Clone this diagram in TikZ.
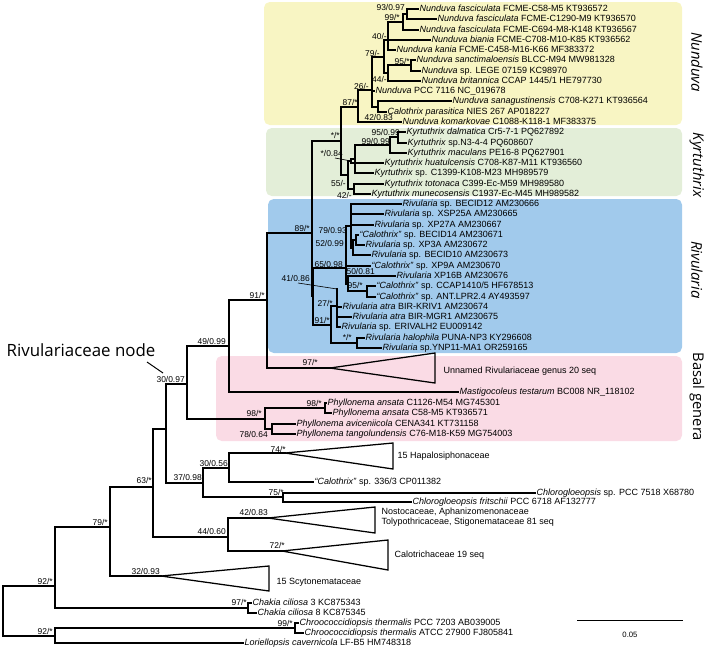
\documentclass[tikz,border=0pt]{standalone}
\usepackage{fontspec}
\setmainfont{Liberation Sans}
\newfontfamily\cladefont{Open Sans}
\definecolor{nunduvabg}{RGB}{248,245,195}
\definecolor{kyrtbg}{RGB}{227,238,216}
\definecolor{rivbg}{RGB}{161,202,236}
\definecolor{basalbg}{RGB}{250,219,229}
\newcommand*{\taxon}[2]{\textit{#1} #2}

\begin{document}
\begin{tikzpicture}
[
	x=0.025cm, y=-0.025cm,
	branch/.style={line width=0.9pt, line cap=rect},
	leader/.style={line width=0.45pt},
	leaf/.style={anchor=west, inner sep=1pt, font=\fontsize{6.4}{7}\selectfont, text height=4.6pt, text depth=1.3pt},
	supp/.style={anchor=east, inner sep=0pt, font=\fontsize{6}{7}\selectfont},
	clade/.style={rotate=-90, inner sep=0pt, font=\cladefont\fontsize{10.5}{12}\selectfont},
	cladebox/.style={rounded corners=4pt}
]
	\useasboundingbox (0,0) rectangle (709,652);

	% clade boxes
	\fill[nunduvabg,cladebox] (264,2) rectangle (682,125);
	\fill[kyrtbg,cladebox] (266,128) rectangle (682,196);
	\fill[rivbg,cladebox] (268,199) rectangle (682,353);
	\fill[basalbg,cladebox] (216,356) rectangle (682,441);

	% clade names
	\node[clade] (nunduvalab) at (697,62) {\itshape Nunduva};
	\node[clade] (kyrtlab) at (697,165) {\itshape Kyrtuthrix};
	\node[clade] (rivlab) at (697,270) {\itshape Rivularia};
	\node[clade] (basallab) at (697,397) {Basal genera};

	% internal nodes
	\coordinate (root) at (3,611);
	\coordinate (nin) at (55,586);
	\coordinate (nout) at (55,636);
	\coordinate (n79) at (110,527);
	\coordinate (n63) at (153,487);
	\coordinate (n166) at (166,429);
	\coordinate (n30) at (187,384);
	\coordinate (n49) at (229,346);
	\coordinate (n91) at (267,300);
	\coordinate (n89) at (312,233);
	\coordinate (nkn) at (341,141);
	\coordinate (n87) at (358,107);
	\coordinate (n26) at (372,90);
	\coordinate (nx) at (378,107);
	\coordinate (n79n) at (384,57);
	\coordinate (n40) at (388,40);
	\coordinate (n99n) at (403,22);
	\coordinate (n93) at (407,14);
	\coordinate (n44n) at (388,73);
	\coordinate (n95n) at (411,65);
	\coordinate (nkr) at (348,175);
	\coordinate (n84) at (351,161);
	\coordinate (nk1) at (355,159);
	\coordinate (n99k) at (390,145);
	\coordinate (n95k) at (398,137);
	\coordinate (n55) at (354,189);
	\coordinate (nr0) at (313,296);
	\coordinate (n65) at (346,268);
	\coordinate (np1) at (351,226);
	\coordinate (n52) at (353,248);
	\coordinate (n79r) at (356,240);
	\coordinate (n50) at (348,284);
	\coordinate (n95r) at (367,291);
	\coordinate (n91r) at (331,325);
	\coordinate (n27) at (337,306);
	\coordinate (n41) at (337,289);
	\coordinate (nhal) at (357,343);
	\coordinate (n98) at (265,419);
	\coordinate (n98a) at (325,408);
	\coordinate (n78) at (272,429);
	\coordinate (n37) at (203,483);
	\coordinate (n3056) at (229,468);
	\coordinate (n75) at (283,497);
	\coordinate (n44) at (228,537);
	\coordinate (n97) at (248,608);
	\coordinate (n99c) at (295,628);

	% collapsed clades
	\coordinate (tunn) at (330,368); \coordinate (tunnt) at (435,353); \coordinate (tunnb) at (435,383);
	\coordinate (thap) at (285,453); \coordinate (thapt) at (393,443); \coordinate (thapb) at (393,469);
	\coordinate (tnos) at (268,518); \coordinate (tnost) at (375,507); \coordinate (tnosb) at (375,533);
	\coordinate (tcal) at (282,551); \coordinate (tcalt) at (388,540); \coordinate (tcalb) at (388,570);
	\coordinate (tscy) at (161,576); \coordinate (tscyt) at (269,566); \coordinate (tscyb) at (269,591);
	\foreach \t in {tunn,thap,tnos,tcal,tscy} {
		\draw[branch,line cap=butt] (\t) -- (\t t) -- (\t b) -- cycle;
	}
	\node[leaf] (lunn) at (442,371) {Unnamed Rivulariaceae genus 20 seq};
	\node[leaf] (lhap) at (396,456) {15 Hapalosiphonaceae};
	\node[leaf] (lnos) at (380,512) {Nostocaceae, Aphanizomenonaceae};
	\node[leaf] (ltol) at (380,522) {Tolypothricaceae, Stigonemataceae 81 seq};
	\node[leaf] (lcal) at (393,555) {Calotrichaceae 19 seq};
	\node[leaf] (lscy) at (275,582) {15 Scytonemataceae};

	% leaves
	\node[leaf] (fa1) at (418,9) {\taxon{Nunduva fasciculata}{FCME-C58-M5 KT936572}};
	\node[leaf] (fa2) at (436,19) {\taxon{Nunduva fasciculata}{FCME-C1290-M9 KT936570}};
	\node[leaf] (fa3) at (418,30) {\taxon{Nunduva fasciculata}{FCME-C694-M8-K148 KT936567}};
	\node[leaf] (bia) at (430,40) {\taxon{Nunduva biania}{FCME-C708-M10-K85 KT936562}};
	\node[leaf] (kan) at (395,50) {\taxon{Nunduva kania}{FCME-C458-M16-K66 MF383372}};
	\node[leaf] (san) at (415,60) {\taxon{Nunduva sanctimaloensis}{BLCC-M94 MW981328}};
	\node[leaf] (leg) at (420,71) {\taxon{Nunduva}{sp. LEGE 07159 KC98970}};
	\node[leaf] (bri) at (420,81) {\taxon{Nunduva britannica}{CCAP 1445/1 HE797730}};
	\node[leaf] (pcc) at (374,91) {\taxon{Nunduva}{PCC 7116 NC\_019678}};
	\node[leaf] (sag) at (451,101) {\taxon{Nunduva sanagustinensis}{C708-K271 KT936564}};
	\node[leaf] (par) at (386,112) {\taxon{Calothrix parasitica}{NIES 267 AP018227}};
	\node[leaf] (kom) at (401,122) {\taxon{Nunduva komarkovae}{C1088-K118-1 MF383375}};
	\node[leaf] (dal) at (405,132) {\taxon{Kyrtuthrix dalmatica}{Cr5-7-1 PQ627892}};
	\node[leaf] (kn3) at (406,143) {\taxon{Kyrtuthrix}{sp.N3-4-4 PQ608607}};
	\node[leaf] (mac) at (406,153) {\taxon{Kyrtuthrix maculans}{PE16-8 PQ627901}};
	\node[leaf] (hua) at (383,163) {\taxon{Kyrtuthrix huatulcensis}{C708-K87-M11 KT936560}};
	\node[leaf] (k13) at (373,173) {\taxon{Kyrtuthrix}{sp. C1399-K108-M23 MH989579}};
	\node[leaf] (tot) at (383,184) {\taxon{Kyrtuthrix totonaca}{C399-Ec-M59 MH989580}};
	\node[leaf] (mun) at (370,194) {\taxon{Kyrtuthrix munecosensis}{C1937-Ec-M45 MH989582}};
	\node[leaf] (rb12) at (401,204) {\taxon{Rivularia}{sp. BECID12 AM230666}};
	\node[leaf] (rx25) at (383,214) {\taxon{Rivularia}{sp. XSP25A AM230665}};
	\node[leaf] (rx27) at (373,225) {\taxon{Rivularia}{sp. XP27A AM230667}};
	\node[leaf] (cb14) at (358,235) {\taxon{``Calothrix''}{sp. BECID14 AM230671}};
	\node[leaf] (rx3) at (364,245) {\taxon{Rivularia}{sp. XP3A AM230672}};
	\node[leaf] (rb10) at (370,255) {\taxon{Rivularia}{sp. BECID10 AM230673}};
	\node[leaf] (cx9) at (370,266) {\taxon{``Calothrix''}{sp. XP9A AM230670}};
	\node[leaf] (rx16) at (395,276) {\taxon{Rivularia}{XP16B AM230676}};
	\node[leaf] (cccap) at (375,286) {\taxon{``Calothrix''}{sp. CCAP1410/5 HF678513}};
	\node[leaf] (cant) at (375,297) {\taxon{``Calothrix''}{sp. ANT.LPR2.4 AY493597}};
	\node[leaf] (rak) at (341,307) {\taxon{Rivularia atra}{BIR-KRIV1 AM230674}};
	\node[leaf] (ram) at (351,317) {\taxon{Rivularia atra}{BIR-MGR1 AM230675}};
	\node[leaf] (rer) at (340,327) {\taxon{Rivularia}{sp. ERIVALH2 EU009142}};
	\node[leaf] (rha) at (364,338) {\taxon{Rivularia halophila}{PUNA-NP3 KY296608}};
	\node[leaf] (rynp) at (381,348) {\taxon{Rivularia}{sp.YNP11-MA1 OR259165}};
	\node[leaf] (mas) at (458,392) {\taxon{Mastigocoleus testarum}{BC008 NR\_118102}};
	\node[leaf] (pa1) at (326,403) {\taxon{Phyllonema ansata}{C1126-M54 MG745301}};
	\node[leaf] (pa2) at (331,413) {\taxon{Phyllonema ansata}{C58-M5 KT936571}};
	\node[leaf] (pav) at (295,424) {\taxon{Phyllonema aviceniicola}{CENA341 KT731158}};
	\node[leaf] (pta) at (295,434) {\taxon{Phyllonema tangolundensis}{C76-M18-K59 MG754003}};
	\node[leaf] (c336) at (313,482) {\taxon{``Calothrix''}{sp. 336/3 CP011382}};
	\node[leaf] (chs) at (535,493) {\taxon{Chlorogloeopsis}{sp. PCC 7518 X68780}};
	\node[leaf] (chf) at (411,502) {\taxon{Chlorogloeopsis fritschii}{PCC 6718 AF132777}};
	\node[leaf] (ch3) at (251,603) {\taxon{Chakia ciliosa}{3 KC875343}};
	\node[leaf] (ch8) at (256,613) {\taxon{Chakia ciliosa}{8 KC875345}};
	\node[leaf] (cr1) at (298,623) {\taxon{Chroococcidiopsis thermalis}{PCC 7203 AB039005}};
	\node[leaf] (cr2) at (303,633) {\taxon{Chroococcidiopsis thermalis}{ATCC 27900 FJ805841}};
	\node[leaf] (lor) at (243,643) {\taxon{Loriellopsis cavernicola}{LF-B5 HM748318}};

	% branches
	\foreach \p/\c in {root/nin, root/nout, nin/n79, nin/n97, nout/n99c, nout/lor,
		n99c/cr1, n99c/cr2, n97/ch3, n97/ch8, n79/n63, n79/tscy,
		n63/n166, n63/n44, n44/tnos, n44/tcal, n166/n30, n166/n37,
		n37/n3056, n37/n75, n3056/thap, n3056/c336, n75/chs, n75/chf,
		n30/n49, n30/n98, n98/n98a, n98/n78, n98a/pa1, n98a/pa2, n78/pav, n78/pta,
		n49/n91, n49/mas, n91/n89, n91/tunn, n89/nkn, n89/nr0,
		nkn/n87, nkn/nkr, n87/n26, n87/kom, n26/n79n, n26/pcc, n26/nx,
		nx/sag, nx/par, n79n/n40, n79n/n44n, n40/n99n, n40/bia, n40/kan,
		n99n/n93, n99n/fa3, n93/fa1, n93/fa2, n44n/n95n, n44n/bri, n95n/san, n95n/leg,
		nkr/n84, nkr/n55, n84/nk1, n84/hua, nk1/n99k, nk1/k13,
		n99k/n95k, n99k/mac, n95k/dal, n95k/kn3, n55/tot, n55/mun,
		nr0/n65, nr0/n91r, n65/np1, n65/cx9, n65/n50,
		np1/rb12, np1/rx25, np1/rx27, np1/n52, n52/n79r, n52/rb10, n79r/cb14, n79r/rx3,
		n50/rx16, n50/n95r, n95r/cccap, n95r/cant,
		n91r/n27, n91r/nhal, n27/n41, n27/rak, n27/ram, n27/rer, nhal/rha, nhal/rynp} {
		\draw[branch] (\p) |- (\c);
	}

	% support values
	\node[supp] (s93n) at (405,7) {93/0.97};
	\node[supp] (s99n) at (400,17) {99/*};
	\node[supp] (s40n) at (387,36) {40/-};
	\node[supp] (s79n) at (380,53) {79/-};
	\node[supp] (s95n) at (410,61) {95/*};
	\node[supp] (s44n) at (387,79) {44/-};
	\node[supp] (s26n) at (369,86) {26/-};
	\node[supp] (s87n) at (358,102) {87/*};
	\node[supp] (s42n) at (393,117) {42/0.83};
	\node[supp] (skn) at (340,135) {*/*};
	\node[supp] (s95k) at (400,132) {95/0.99};
	\node[supp] (s99k) at (390,141) {99/0.99};
	\node[supp] (s84k) at (343,153) {*/0.84};
	\node[supp] (s55k) at (346,183) {55/-};
	\node[supp] (s42k) at (352,195) {42/-};
	\node[supp] (s89) at (310,228) {89/*};
	\node[supp] (s79r) at (347,230) {79/0.93};
	\node[supp] (s52r) at (344,243) {52/0.99};
	\node[supp] (s65r) at (343,264) {65/0.98};
	\node[supp] (s50r) at (375,271) {50/0.81};
	\node[supp] (s41r) at (310,278) {41/0.86};
	\node[supp] (s95r) at (363,285) {95/*};
	\node[supp] (s27r) at (333,303) {27/*};
	\node[supp] (s91r) at (330,320) {91/*};
	\node[supp] (shal) at (352,337) {*/*};
	\node[supp] (s91) at (265,295) {91/*};
	\node[supp] (s49) at (226,341) {49/0.99};
	\node[supp] (s30) at (185,379) {30/0.97};
	\node[supp] (s97u) at (318,362) {97/*};
	\node[supp] (s98a) at (322,403) {98/*};
	\node[supp] (s98) at (262,413) {98/*};
	\node[supp] (s78) at (268,434) {78/0.64};
	\node[supp] (s74) at (286,449) {74/*};
	\node[supp] (s3056) at (228,463) {30/0.56};
	\node[supp] (s37) at (202,477) {37/0.98};
	\node[supp] (s75) at (284,492) {75/*};
	\node[supp] (s63) at (152,480) {63/*};
	\node[supp] (s42) at (268,512) {42/0.83};
	\node[supp] (s44) at (226,531) {44/0.60};
	\node[supp] (s72) at (285,545) {72/*};
	\node[supp] (s79) at (108,522) {79/*};
	\node[supp] (s32) at (160,571) {32/0.93};
	\node[supp] (s92u) at (53,581) {92/*};
	\node[supp] (s97c) at (247,602) {97/*};
	\node[supp] (s99c) at (293,623) {99/*};
	\node[supp] (s92l) at (53,631) {92/*};

	% pointers
	\coordinate (p84) at (335,158);
	\coordinate (p41) at (298,283);
	\draw[leader] (p84) -- (n84);
	\draw[leader] (p41) -- (n41);

	% Rivulariaceae node
	\node[font=\cladefont\fontsize{12}{14}\selectfont, inner sep=0pt] (rivnode) at (81,350) {Rivulariaceae node};
	\coordinate (rivfoot) at (147,362);
	\coordinate (rivtip) at (163,373);
	\draw[line width=0.7pt] (rivfoot) -- (rivtip);

	% scale bar
	\coordinate (sb0) at (577,620);
	\coordinate (sb1) at (683,620);
	\draw[line width=0.6pt] (sb0) -- (sb1);
	\node[font=\fontsize{5.5}{6}\selectfont] (sblab) at (630,635) {0.05};

\end{tikzpicture}
\end{document}
